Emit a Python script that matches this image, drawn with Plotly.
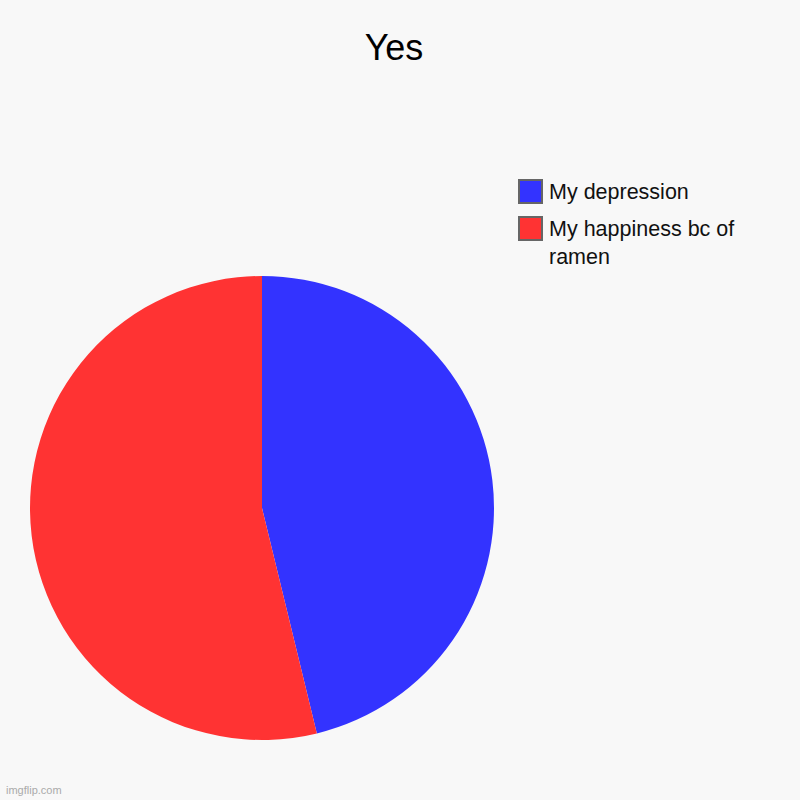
import plotly.graph_objects as go

# slices
labels = ["My depression", "My happiness bc of<br>ramen"]
values = [46.2, 53.8]
colors = ["#3333ff", "#ff3333"]

W = H = 800

fig = go.Figure(go.Pie(
    labels=labels,
    values=values,
    sort=False,
    direction="clockwise",
    rotation=0,
    textinfo="none",
    hoverinfo="label+percent",
    marker=dict(colors=colors, line=dict(width=0)),
    domain=dict(x=[30/W, 494/W], y=[60/H, 524/H]),
    showlegend=False,
))

# hand-made legend: big squares with a grey border, like the original
shapes = []
annotations = []
item_top = [180, 217]
for lab, col, top in zip(labels, colors, item_top):
    shapes.append(dict(type="rect", xref="paper", yref="paper",
                       x0=519/W, x1=542/W, y0=1-(top+23)/H, y1=1-top/H,
                       fillcolor=col, line=dict(color="#666666", width=2)))
    annotations.append(dict(text=lab, xref="paper", yref="paper",
                            x=547/W, y=1-(top-2)/H, xanchor="left", yanchor="top",
                            align="left", showarrow=False,
                            font=dict(size=21.5, color="#111111")))

annotations.append(dict(text="imgflip.com", x=4/W, y=2/H, xref="paper", yref="paper",
                        xanchor="left", yanchor="bottom", showarrow=False,
                        font=dict(size=11, color="#aaaaaa")))

fig.update_layout(
    width=W, height=H,
    margin=dict(l=0, r=0, t=0, b=0),
    paper_bgcolor="#f8f8f8",
    plot_bgcolor="#f8f8f8",
    font=dict(family="Liberation Sans, Arial, sans-serif", color="#111111"),
    title=dict(text="Yes", x=394/W, xanchor="center", y=1-47/H, yanchor="middle",
               font=dict(size=36, color="#000000")),
    shapes=shapes,
    annotations=annotations,
)

# drop the page margin so the figure sits at the window's corner
fig.write_html("out.html", config={"displayModeBar": False},
               post_script="document.body.style.margin='0';")
